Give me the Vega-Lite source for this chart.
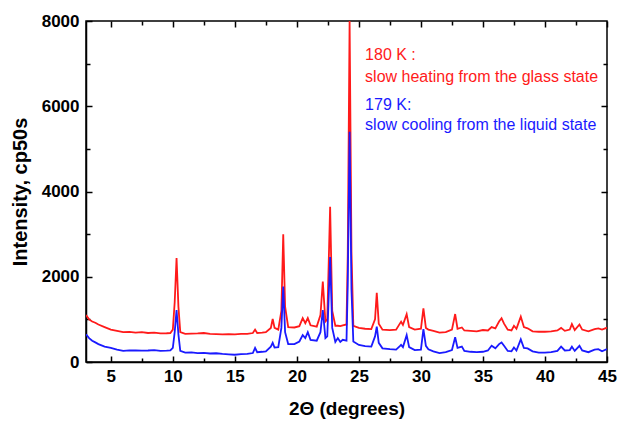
{
  "$schema": "https://vega.github.io/schema/vega-lite/v6.json",
  "width": 521,
  "height": 341,
  "autosize": {"type": "none"},
  "padding": {"left": 86, "top": 21, "right": 11, "bottom": 59},
  "background": "white",
  "config": {
    "view": {"stroke": "black", "strokeWidth": 1.5},
    "axis": {
      "labelFont": "Liberation Sans",
      "labelFontWeight": "bold",
      "labelFontSize": 17,
      "labelColor": "black",
      "titleFont": "Liberation Sans",
      "titleFontWeight": "bold",
      "titleFontSize": 20,
      "titleColor": "black",
      "domainColor": "black",
      "domainWidth": 1.5,
      "tickColor": "black",
      "tickWidth": 1.5,
      "grid": false,
      "labelOverlap": false,
      "labelFlush": false
    }
  },
  "data": {
    "values": [
      {"t":3.0,"r":1100,"b":650},{"t":3.25,"r":1000,"b":560},{"t":3.5,"r":950,"b":500},{"t":3.75,"r":920,"b":460},
      {"t":4.0,"r":880,"b":420},{"t":4.5,"r":820,"b":360},{"t":5.0,"r":760,"b":330},{"t":5.5,"r":730,"b":290},
      {"t":6.0,"r":700,"b":260},{"t":6.5,"r":705,"b":275},{"t":7.0,"r":690,"b":270},{"t":7.5,"r":700,"b":265},
      {"t":8.0,"r":680,"b":270},{"t":8.5,"r":690,"b":280},{"t":9.0,"r":670,"b":260},{"t":9.5,"r":675,"b":265},
      {"t":9.8,"r":680,"b":270},{"t":10.0,"r":760,"b":330},{"t":10.15,"r":1400,"b":700},{"t":10.3,"r":2440,"b":1220},
      {"t":10.45,"r":1300,"b":650},{"t":10.6,"r":700,"b":260},{"t":11.0,"r":660,"b":220},{"t":11.5,"r":665,"b":225},
      {"t":12.0,"r":670,"b":210},{"t":12.5,"r":680,"b":215},{"t":13.0,"r":660,"b":200},{"t":13.5,"r":655,"b":205},
      {"t":14.0,"r":650,"b":190},{"t":14.5,"r":655,"b":180},{"t":15.0,"r":650,"b":170},{"t":15.5,"r":660,"b":185},
      {"t":16.0,"r":660,"b":190},{"t":16.45,"r":680,"b":210},{"t":16.63,"r":760,"b":330},{"t":16.8,"r":680,"b":230},
      {"t":17.2,"r":690,"b":240},{"t":17.5,"r":700,"b":250},{"t":17.9,"r":800,"b":360},{"t":18.05,"r":1010,"b":450},
      {"t":18.2,"r":800,"b":340},{"t":18.5,"r":760,"b":350},{"t":18.75,"r":1200,"b":800},{"t":18.9,"r":2995,"b":1770},
      {"t":19.05,"r":1300,"b":700},{"t":19.3,"r":820,"b":420},{"t":19.8,"r":810,"b":420},{"t":20.2,"r":840,"b":480},
      {"t":20.47,"r":1030,"b":630},{"t":20.68,"r":910,"b":560},{"t":20.88,"r":1030,"b":700},{"t":21.1,"r":860,"b":520},
      {"t":21.6,"r":830,"b":500},{"t":21.9,"r":1100,"b":700},{"t":22.09,"r":1885,"b":1220},{"t":22.3,"r":950,"b":560},
      {"t":22.45,"r":1000,"b":600},{"t":22.68,"r":3640,"b":2460},{"t":22.85,"r":1200,"b":800},{"t":23.1,"r":850,"b":470},
      {"t":23.3,"r":850,"b":560},{"t":23.5,"r":840,"b":470},{"t":23.7,"r":860,"b":520},{"t":24.0,"r":880,"b":500},
      {"t":24.1,"r":2500,"b":1800},{"t":24.25,"r":8000,"b":5400},{"t":24.4,"r":2600,"b":1700},{"t":24.55,"r":850,"b":480},
      {"t":25.0,"r":800,"b":400},{"t":25.5,"r":780,"b":370},{"t":26.0,"r":770,"b":360},{"t":26.3,"r":1000,"b":600},
      {"t":26.44,"r":1625,"b":830},{"t":26.6,"r":900,"b":450},{"t":26.9,"r":760,"b":320},{"t":27.5,"r":750,"b":300},
      {"t":28.0,"r":760,"b":290},{"t":28.3,"r":900,"b":370},{"t":28.4,"r":945,"b":400},{"t":28.55,"r":870,"b":350},
      {"t":28.85,"r":1120,"b":630},{"t":29.05,"r":820,"b":350},{"t":29.5,"r":760,"b":280},{"t":30.0,"r":780,"b":290},
      {"t":30.2,"r":1260,"b":770},{"t":30.4,"r":800,"b":380},{"t":30.6,"r":760,"b":300},{"t":31.0,"r":730,"b":250},
      {"t":31.5,"r":690,"b":210},{"t":32.0,"r":700,"b":230},{"t":32.5,"r":760,"b":280},{"t":32.76,"r":1125,"b":580},
      {"t":32.95,"r":780,"b":330},{"t":33.3,"r":810,"b":360},{"t":33.5,"r":740,"b":260},{"t":34.0,"r":730,"b":240},
      {"t":34.5,"r":720,"b":230},{"t":35.0,"r":750,"b":240},{"t":35.4,"r":740,"b":270},{"t":35.7,"r":820,"b":380},
      {"t":36.0,"r":790,"b":320},{"t":36.3,"r":950,"b":420},{"t":36.5,"r":1025,"b":460},{"t":36.7,"r":900,"b":380},
      {"t":37.0,"r":760,"b":260},{"t":37.3,"r":740,"b":250},{"t":37.5,"r":850,"b":340},{"t":37.7,"r":780,"b":270},
      {"t":38.05,"r":1065,"b":530},{"t":38.3,"r":820,"b":330},{"t":38.6,"r":790,"b":320},{"t":39.0,"r":720,"b":250},
      {"t":39.5,"r":710,"b":220},{"t":40.0,"r":710,"b":220},{"t":40.5,"r":720,"b":230},{"t":41.0,"r":740,"b":260},
      {"t":41.3,"r":800,"b":360},{"t":41.6,"r":730,"b":270},{"t":42.0,"r":760,"b":280},{"t":42.17,"r":890,"b":360},
      {"t":42.4,"r":750,"b":260},{"t":42.78,"r":880,"b":380},{"t":43.0,"r":760,"b":270},{"t":43.5,"r":720,"b":230},
      {"t":44.0,"r":770,"b":290},{"t":44.3,"r":790,"b":300},{"t":44.6,"r":760,"b":250},{"t":45.0,"r":805,"b":305}
    ]
  },
  "layer": [
    {
      "transform": [{"fold": ["r", "b"], "as": ["series", "intensity"]}],
      "mark": {"type": "line", "strokeWidth": 1.8, "clip": true},
      "encoding": {
        "x": {
          "field": "t", "type": "quantitative",
          "scale": {"domain": [3, 45], "nice": false, "zero": false},
          "axis": {
            "orient": "bottom",
            "title": "2Θ (degrees)",
            "titleFontSize": 19,
            "titlePadding": 13,
            "values": [5,7.5,10,12.5,15,17.5,20,22.5,25,27.5,30,32.5,35,37.5,40,42.5,45],
            "labelExpr": "datum.value % 5 === 0 ? datum.label : ''",
            "tickSize": {"condition": {"test": "datum.value % 5 === 0", "value": -6}, "value": -4},
            "labelPadding": 12
          }
        },
        "y": {
          "field": "intensity", "type": "quantitative",
          "scale": {"domain": [0, 8000], "nice": false},
          "axis": {
            "orient": "left",
            "title": "Intensity, cp50s",
            "titlePadding": 11,
            "values": [0,1000,2000,3000,4000,5000,6000,7000,8000],
            "format": "d",
            "labelExpr": "datum.value % 2000 === 0 ? datum.label : ''",
            "tickSize": {"condition": {"test": "datum.value % 2000 === 0", "value": -6}, "value": -4},
            "labelPadding": 13
          }
        },
        "color": {
          "field": "series", "type": "nominal",
          "scale": {"domain": ["r", "b"], "range": ["#ff1a1a", "#1a1aff"]},
          "legend": null
        },
        "detail": {"field": "series"}
      }
    },
    {
      "data": {"values": [{"label": "180 K :"}]},
      "mark": {"type": "text", "align": "left", "baseline": "middle", "font": "Liberation Sans", "fontSize": 16, "color": "#ff1a1a"},
      "encoding": {
        "x": {"datum": 25.5, "type": "quantitative",
          "axis": {"orient": "top", "values": [5,7.5,10,12.5,15,17.5,20,22.5,25,27.5,30,32.5,35,37.5,40,42.5,45], "labels": false, "title": null, "domain": false,
            "tickSize": {"condition": {"test": "datum.value % 5 === 0", "value": -6}, "value": -4}}},
        "y": {"datum": 7200, "type": "quantitative",
          "axis": {"orient": "right", "values": [1000,2000,3000,4000,5000,6000,7000], "labels": false, "title": null, "domain": false,
            "tickSize": {"condition": {"test": "datum.value % 2000 === 0", "value": -6}, "value": -4}}},
        "text": {"field": "label"}
      }
    },
    {
      "data": {"values": [{"label": "slow heating from the glass state"}]},
      "mark": {"type": "text", "align": "left", "baseline": "middle", "font": "Liberation Sans", "fontSize": 16, "color": "#ff1a1a"},
      "encoding": {
        "x": {"datum": 25.5, "type": "quantitative", "axis": null},
        "y": {"datum": 6690, "type": "quantitative", "axis": null},
        "text": {"field": "label"}
      }
    },
    {
      "data": {"values": [{"label": "179 K:"}]},
      "mark": {"type": "text", "align": "left", "baseline": "middle", "font": "Liberation Sans", "fontSize": 16, "color": "#1a1aff"},
      "encoding": {
        "x": {"datum": 25.5, "type": "quantitative", "axis": null},
        "y": {"datum": 6030, "type": "quantitative", "axis": null},
        "text": {"field": "label"}
      }
    },
    {
      "data": {"values": [{"label": "slow cooling from the liquid state"}]},
      "mark": {"type": "text", "align": "left", "baseline": "middle", "font": "Liberation Sans", "fontSize": 16, "color": "#1a1aff"},
      "encoding": {
        "x": {"datum": 25.5, "type": "quantitative", "axis": null},
        "y": {"datum": 5560, "type": "quantitative", "axis": null},
        "text": {"field": "label"}
      }
    }
  ],
  "resolve": {"axis": {"x": "independent", "y": "independent"}}
}
